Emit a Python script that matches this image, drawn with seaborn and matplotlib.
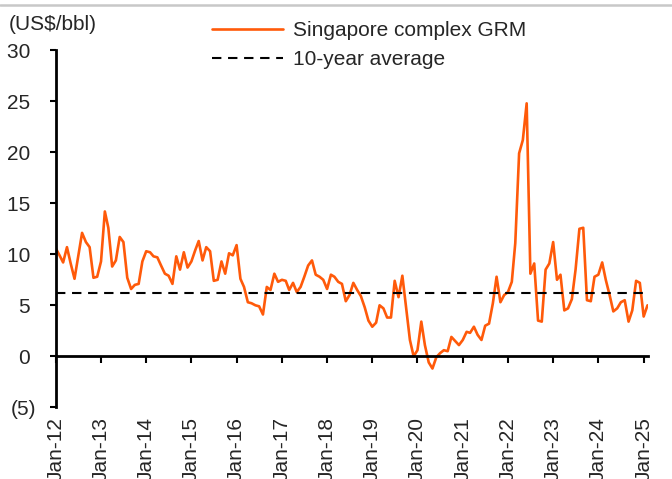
"""
Singapore complex GRM (US$/bbl), monthly Jan-12 to Feb-25, with 10-year average.
"""

import pandas as pd
import matplotlib
matplotlib.use("Agg")
import matplotlib.pyplot as plt
import seaborn as sns
from matplotlib.lines import Line2D

# Monthly GRM values, one list per year
grm_2012 = [10.6, 9.9, 9.2, 10.7, 9.1, 7.6, 9.8, 12.1, 11.2, 10.7, 7.7, 7.8]
grm_2013 = [9.3, 14.2, 12.6, 8.8, 9.4, 11.7, 11.2, 7.7, 6.6, 7.0, 7.1, 9.3]
grm_2014 = [10.3, 10.2, 9.8, 9.7, 8.9, 8.1, 7.9, 7.1, 9.8, 8.5, 10.2, 8.7]
grm_2015 = [9.3, 10.4, 11.3, 9.4, 10.7, 10.3, 7.4, 7.5, 9.3, 8.1, 10.1, 9.9]
grm_2016 = [10.9, 7.6, 6.8, 5.3, 5.2, 5.0, 4.9, 4.1, 6.8, 6.5, 8.1, 7.3]
grm_2017 = [7.5, 7.4, 6.5, 7.2, 6.3, 6.8, 7.8, 8.9, 9.4, 8.0, 7.8, 7.5]
grm_2018 = [6.6, 8.0, 7.8, 7.3, 7.1, 5.4, 6.0, 7.2, 6.5, 5.9, 4.8, 3.5]
grm_2019 = [2.9, 3.3, 5.0, 4.7, 3.8, 3.8, 7.4, 5.8, 7.9, 4.8, 1.6, 0.0]
grm_2020 = [0.6, 3.4, 1.1, -0.6, -1.2, -0.1, 0.3, 0.6, 0.5, 1.9, 1.5, 1.1]
grm_2021 = [1.6, 2.4, 2.3, 2.9, 2.1, 1.6, 3.0, 3.2, 5.2, 7.8, 5.3, 6.0]
grm_2022 = [6.3, 7.3, 11.1, 19.9, 21.2, 24.8, 8.1, 9.1, 3.5, 3.4, 8.5, 9.1]
grm_2023 = [11.2, 7.5, 8.0, 4.5, 4.7, 5.6, 8.5, 12.5, 12.6, 5.5, 5.4, 7.8]
grm_2024 = [8.0, 9.2, 7.5, 6.0, 4.4, 4.7, 5.3, 5.5, 3.4, 4.5, 7.4, 7.2]
grm_2025 = [3.9, 5.0]

TEN_YEAR_AVG = 6.2
Y_TICKS = [-5, 0, 5, 10, 15, 20, 25, 30]
Y_TICK_LABELS = ["(5)", "0 ", "5 ", "10 ", "15 ", "20 ", "25 ", "30 "]
TICK_YEARS = list(range(2012, 2026))

LINE_COLOR = "#FF5A0A"
FONT = ["Liberation Sans", "DejaVu Sans"]

grm = (grm_2012 + grm_2013 + grm_2014 + grm_2015 + grm_2016 + grm_2017 + grm_2018
       + grm_2019 + grm_2020 + grm_2021 + grm_2022 + grm_2023 + grm_2024 + grm_2025)
months = pd.date_range("2012-01-01", periods=len(grm), freq="MS")
df = pd.DataFrame({"month": months, "grm": grm, "avg": [TEN_YEAR_AVG] * len(grm)})

sns.set_style("white")
plt.rcParams["font.family"] = FONT
plt.rcParams["font.size"] = 15

fig = plt.figure(figsize=(6.72, 4.79), dpi=100)
ax = fig.add_axes([55.7 / 672, 1 - 407.3 / 479, (647.5 - 55.7) / 672, (407.3 - 50.3) / 479])

sns.lineplot(data=df, x="month", y="grm", ax=ax, color=LINE_COLOR, lw=1.9,
             label="Singapore complex GRM")
sns.lineplot(data=df, x="month", y="avg", ax=ax, color="black", lw=1.5,
             dashes=False, label="10-year average")
ax.lines[1].set_dashes((4.5, 3.2))

ax.set_xlim(months[0], months[-1])
ax.set_ylim(-5, 30)
ax.set_xlabel("")
ax.set_ylabel("")

# y axis
ax.set_yticks(Y_TICKS)
ax.set_yticklabels(Y_TICK_LABELS)
ax.tick_params(axis="y", direction="out", length=4, width=1.5, color="black",
               pad=10, labelsize=15, left=True)

# x axis line sits at zero, tick labels below the plot
jan_ticks = pd.to_datetime([f"{y}-01-01" for y in TICK_YEARS])
ax.spines["bottom"].set_position(("data", 0))
ax.set_xticks(jan_ticks)
ax.tick_params(axis="x", direction="out", length=5, width=1.5, color="black",
               labelbottom=False, bottom=True)

sec = ax.secondary_xaxis("bottom")
sec.set_xticks(jan_ticks)
sec.set_xticklabels([d.strftime("%b-%y") for d in jan_ticks], rotation=90,
                    fontsize=15)
sec.tick_params(axis="x", length=0, pad=7)
sec.spines["bottom"].set_visible(False)

for side in ["top", "right"]:
    ax.spines[side].set_visible(False)
for side in ["left", "bottom"]:
    ax.spines[side].set_color("black")
    ax.spines[side].set_linewidth(2)

ax.legend(loc="upper left", bbox_to_anchor=(212 / 672, 1 - 21 / 479),
          bbox_transform=fig.transFigure, frameon=False, fontsize=15,
          handlelength=3.4, handletextpad=0.5, labelspacing=0.5,
          borderpad=0, borderaxespad=0)

fig.text(9 / 672, 1 - 25 / 479, "(US$/bbl)", fontsize=15, va="center", ha="left")

# thin grey rule along the top edge
fig.add_artist(Line2D([0, 1], [1 - 4.5 / 479, 1 - 4.5 / 479],
                      transform=fig.transFigure, color="#C8C8C8", lw=1.8))

fig.savefig("out.png", dpi=100)
